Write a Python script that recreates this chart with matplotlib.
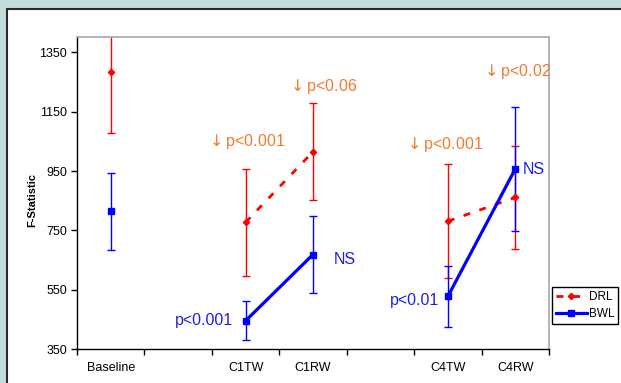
import numpy as np
import matplotlib
matplotlib.use("Agg")
import matplotlib.pyplot as plt
from matplotlib.patches import Rectangle
from matplotlib.lines import Line2D

plt.rcParams['font.family'] = ['Liberation Sans', 'DejaVu Sans']

categories = ["Baseline", "", "C1TW", "C1RW", "", "C4TW", "C4RW"]
drl_mean = [1283, np.nan, 777, 1015, np.nan, 781, 861]
drl_err = [206, np.nan, 180, 163, np.nan, 192, 174]
bwl_mean = [814, np.nan, 446, 669, np.nan, 528, 957]
bwl_err = [130, np.nan, 65, 131, np.nan, 102, 209]
y_ticks = [350, 550, 750, 950, 1150, 1350]

ann_family, ann_size = ["Liberation Sans", "DejaVu Sans"], 11.5

W, H = 621, 383
fig = plt.figure(figsize=(W / 100, H / 100), dpi=100)
fig.patch.set_facecolor("#C3DCDC")
fig.patches.append(Rectangle((7, -10), 700, H - 9 + 10, transform=None,
                             facecolor="white", edgecolor="#2A2A2A", linewidth=1.5,
                             zorder=-10))

ax = fig.add_axes([77 / W, 1 - 349.3 / H, (549 - 77) / W, (349.3 - 36.7) / H])
ax.set_zorder(1)
x = np.arange(len(categories))

def segs(vals):
    out = np.array(vals, dtype=float).copy()
    out[0] = np.nan  # baseline not connected
    return out

ax.errorbar(x, drl_mean, yerr=drl_err, fmt="none", ecolor="#FF0000",
            elinewidth=1, capsize=3, capthick=1, zorder=2)
ax.errorbar(x, bwl_mean, yerr=bwl_err, fmt="none", ecolor="#0000FF",
            elinewidth=1, capsize=3, capthick=1, zorder=2)

ax.plot(x, segs(drl_mean), color="#FF0000", lw=2, ls=(0, (2.5, 3.5)), zorder=3)
ax.plot(x, segs(bwl_mean), color="#0000FF", lw=2.3, zorder=3)
ax.plot(x, drl_mean, ls="none", marker="D", ms=3.2, color="#FF0000", zorder=4)
ax.plot(x, bwl_mean, ls="none", marker="s", ms=4.5, color="#0000FF", zorder=4)

ax.set_xlim(-0.5, 6.5)
ax.set_ylim(350, 1402)
ax.set_yticks(y_ticks)
ax.set_xticks(x)
ax.set_xticklabels(categories)
ax.set_xticks(np.arange(-0.5, 7, 1), minor=True)
ax.tick_params(axis="x", which="major", length=0, pad=9.5, labelsize=9)
ax.tick_params(axis="x", which="minor", length=4, width=1, direction="out", color="black")
ax.tick_params(axis="y", length=4, width=1, direction="out", pad=3, labelsize=9, color="black")
for s in ["left", "bottom"]:
    ax.spines[s].set_color("black")
    ax.spines[s].set_linewidth(1)
for s in ["top", "right"]:
    ax.spines[s].set_color("#A8A8A8")
    ax.spines[s].set_linewidth(1.2)

fig.text(32 / W, 1 - 200 / H, "F-Statistic", rotation=90, ha="center", va="center",
         fontsize=8, fontweight="bold")

orange = "#F07A2E"
kw_o = dict(color=orange, fontsize=ann_size, family=ann_family, ha="center", va="center")
ax.text(2.0, 1049, "$\\downarrow$p<0.001", **kw_o)
ax.text(3.13, 1234, "$\\downarrow$p<0.06", **kw_o)
ax.text(4.93, 1040, "$\\downarrow$p<0.001", **kw_o)
ax.text(6.01, 1285, "$\\downarrow$p<0.02", **kw_o)

blue_t = "#1E1EE6"
kw_b = dict(color=blue_t, fontsize=ann_size, family=ann_family, va="center")
ax.text(1.81, 446, "p<0.001", ha="right", **kw_b)
ax.text(3.47, 651, "NS", ha="center", **kw_b)
ax.text(4.875, 514, "p<0.01", ha="right", **kw_b)
ax.text(6.28, 954, "NS", ha="center", **kw_b)

h1 = Line2D([], [], color="#FF0000", lw=2, ls=(0, (2.5, 3.5)), marker="D", ms=3.2)
h2 = Line2D([], [], color="#0000FF", lw=2.3, marker="s", ms=4.5)
leg = fig.legend([h1, h2], ["DRL", "BWL"], loc="upper left",
                 bbox_to_anchor=(552 / W, 1 - 287 / H), fontsize=8.5, frameon=True,
                 fancybox=False, edgecolor="black", handlelength=2.6, handletextpad=0.15,
                 borderpad=0.35, labelspacing=0.4, borderaxespad=0, framealpha=1)
leg.get_frame().set_linewidth(1)
leg.set_zorder(5)

fig.savefig("out.png", dpi=100, facecolor=fig.get_facecolor())
